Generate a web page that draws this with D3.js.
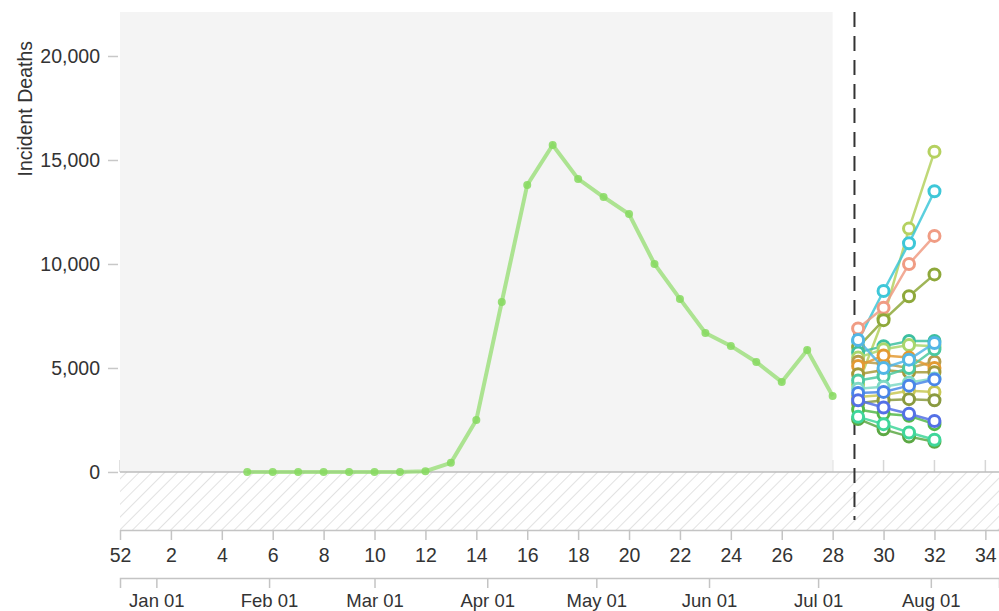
<!DOCTYPE html>
<html>
<head>
<meta charset="utf-8">
<script src="https://cdn.jsdelivr.net/npm/d3@7"></script>
<style>
  body { margin: 0; background: #fff; }
  svg text { font-family: "Liberation Sans", Arial, sans-serif; }
</style>
</head>
<body>
<svg id="chart"></svg>
<script>
// observed weekly deaths (week index: 52 of 2019 = 0)
const truthWeeks = [5, 6, 7, 8, 9, 10, 11, 12, 13, 14, 15, 16, 17, 18, 19, 20, 21, 22, 23, 24, 25, 26, 27, 28];
const truthValues = [0, 0, 0, 0, 0, 0, 0, 40, 440, 2500, 8170, 13800, 15720, 14090, 13220, 12400, 10000, 8320, 6680, 6060, 5290, 4330, 5860, 3650];

// forecasts, one row per model
const forecastWeeks = [29, 30, 31, 32];
const modelNames = ["Model A", "Model B", "Model C", "Model D", "Model E", "Model F", "Model G", "Model H", "Model I",
  "Model J", "Model K", "Model L", "Model M", "Model N", "Model O", "Model P", "Model Q", "Model R", "Model S"];
const modelValues = [
  [4200, 7400, 11700, 15400],
  [6300, 8700, 11000, 13500],
  [6900, 7900, 10000, 11350],
  [6000, 7300, 8450, 9500],
  [5750, 6050, 6300, 6300],
  [5500, 5900, 6100, 6050],
  [5300, 5200, 5000, 5300],
  [5100, 5600, 5500, 5000],
  [4700, 4900, 4800, 4800],
  [4400, 4600, 5000, 5900],
  [6350, 5000, 5400, 6200],
  [4000, 4100, 4300, 4500],
  [3600, 3700, 3900, 3850],
  [3300, 3450, 3500, 3450],
  [3000, 2800, 2700, 2300],
  [3800, 3850, 4150, 4450],
  [3450, 3100, 2800, 2450],
  [2550, 2050, 1700, 1450],
  [2650, 2300, 1900, 1550]
];
const modelColors = ["#b5d160", "#3ec7d8", "#f09c84", "#8ea83a", "#3dbfa0", "#a9d66d", "#b69d4c", "#e39a32", "#a49a3a",
  "#4cc9a0", "#52b6e6", "#7fd9c5", "#c8c855", "#8a9a40", "#55b84a", "#4a86e8", "#5470e6", "#5ca844", "#3fd69a"];

const yTicks = [0, 5000, 10000, 15000, 20000];
const weekTickLabels = [52, 2, 4, 6, 8, 10, 12, 14, 16, 18, 20, 22, 24, 26, 28, 30, 32, 34];
const monthTicks = ["2020-01-01", "2020-02-01", "2020-03-01", "2020-04-01", "2020-05-01", "2020-06-01", "2020-07-01", "2020-08-01"];
const asOfDate = "2020-07-11";

const width = 999, height = 611;
const margin = { left: 120, right: 999, top: 12, bottom: 530 };
const fontSize = "19.5px";

const svg = d3.select("#chart").attr("width", width).attr("height", height);

const start = new Date(Date.UTC(2019, 11, 22));
const dayMs = 864e5;
const x = d3.scaleUtc().domain([start, new Date(start.getTime() + 241.75 * dayMs)]).range([margin.left, margin.right]);
const weekDate = w => new Date(start.getTime() + w * 7 * dayMs);
const y = d3.scaleLinear().domain([-2790, 22115]).range([margin.bottom, margin.top]);

// hatch pattern for negative region
const defs = svg.append("defs");
const pat = defs.append("pattern").attr("id", "hatch").attr("patternUnits", "userSpaceOnUse")
  .attr("width", 9).attr("height", 9).attr("patternTransform", "rotate(45)");
pat.append("line").attr("x1", 0).attr("y1", 0).attr("x2", 0).attr("y2", 9)
  .attr("stroke", "#cfcfcf").attr("stroke-width", 1.2);

// small week ticks above the zero line
svg.append("g").selectAll("line")
  .data(weekTickLabels)
  .enter().append("line")
    .attr("x1", d => x(weekDate(d === 52 ? 0 : d))).attr("x2", d => x(weekDate(d === 52 ? 0 : d)))
    .attr("y1", y(0) - 12).attr("y2", y(0))
    .attr("stroke", "#d6d6d6").attr("stroke-width", 1.5);

// observed-period background
svg.append("rect")
  .attr("x", margin.left).attr("y", margin.top)
  .attr("width", x(weekDate(28)) - margin.left).attr("height", y(0) - margin.top)
  .attr("fill", "#f4f4f4");

svg.append("rect")
  .attr("x", margin.left).attr("y", y(0))
  .attr("width", margin.right - margin.left).attr("height", margin.bottom - y(0))
  .attr("fill", "url(#hatch)");

// y axis
const yAxis = svg.append("g").attr("transform", `translate(${margin.left - 2},0)`)
  .call(d3.axisLeft(y).tickValues(yTicks).tickFormat(d3.format(",")).tickSize(10).tickPadding(8));
yAxis.select(".domain").remove();
yAxis.selectAll("line").attr("stroke", "#c8c8c8").attr("stroke-width", 1.5);
yAxis.selectAll("text").attr("fill", "#333").style("font-size", fontSize);

// zero line
svg.append("line")
  .attr("x1", margin.left).attr("x2", margin.right).attr("y1", y(0)).attr("y2", y(0))
  .attr("stroke", "#bdbdbd").attr("stroke-width", 1.5);

svg.append("text")
  .attr("transform", `translate(32,41) rotate(-90)`)
  .attr("text-anchor", "end")
  .attr("fill", "#333")
  .style("font-size", "19.5px")
  .text("Incident Deaths");

// week axis
const wAxis = svg.append("g").attr("transform", `translate(0,${margin.bottom})`)
  .call(d3.axisBottom(x)
    .tickValues(weekTickLabels.map(d => weekDate(d === 52 ? 0 : d)))
    .tickFormat((d, i) => weekTickLabels[i])
    .tickSize(10).tickSizeOuter(0).tickPadding(8));
wAxis.select(".domain").attr("stroke", "#c4c4c4").attr("stroke-width", 1.5);
wAxis.selectAll("line").attr("stroke", "#c4c4c4").attr("stroke-width", 1.5);
wAxis.selectAll("text").attr("fill", "#333").style("font-size", fontSize);

// month axis
const mAxis = svg.append("g").attr("transform", `translate(0,578)`)
  .call(d3.axisBottom(x)
    .tickValues(monthTicks.map(d => new Date(d + "T00:00:00Z")))
    .tickFormat(d3.utcFormat("%b %d"))
    .tickSize(10).tickSizeOuter(10).tickPadding(6));
mAxis.select(".domain").attr("stroke", "#c4c4c4").attr("stroke-width", 1.5);
mAxis.selectAll("line").attr("stroke", "#c4c4c4").attr("stroke-width", 1.5);
mAxis.selectAll("text").attr("fill", "#333").style("font-size", "18.5px");

// as-of dashed line
const asOfX = x(new Date(asOfDate + "T00:00:00Z"));
svg.append("line")
  .attr("x1", asOfX).attr("x2", asOfX)
  .attr("y1", margin.top).attr("y2", 520)
  .attr("stroke", "#333").attr("stroke-width", 2)
  .attr("stroke-dasharray", "15,9");

// observed line
const truth = truthWeeks.map((w, i) => ({ w, v: truthValues[i] }));
const line = d3.line().x(d => x(weekDate(d.w))).y(d => y(d.v));
svg.append("path")
  .datum(truth)
  .attr("fill", "none")
  .attr("stroke", "#8ddc66")
  .attr("stroke-opacity", 0.7)
  .attr("stroke-width", 4)
  .attr("d", line);
svg.append("g").selectAll("circle")
  .data(truth)
  .enter().append("circle")
    .attr("cx", d => x(weekDate(d.w)))
    .attr("cy", d => y(d.v))
    .attr("r", 4)
    .attr("fill", "#86d95f")
    .attr("fill-opacity", 0.85);

// forecast lines
modelNames.forEach((name, m) => {
  const pts = forecastWeeks.map((w, i) => ({ w, v: modelValues[m][i] }));
  const g = svg.append("g").attr("class", "model").attr("data-name", name);
  g.append("path")
    .datum(pts)
    .attr("fill", "none")
    .attr("stroke", modelColors[m])
    .attr("stroke-width", 2.5)
    .attr("stroke-opacity", 0.85)
    .attr("d", line);
  g.selectAll("circle")
    .data(pts)
    .enter().append("circle")
      .attr("cx", d => x(weekDate(d.w)))
      .attr("cy", d => y(d.v))
      .attr("r", 5.5)
      .attr("fill", "#fff")
      .attr("stroke", modelColors[m])
      .attr("stroke-width", 3);
});
</script>
</body>
</html>
